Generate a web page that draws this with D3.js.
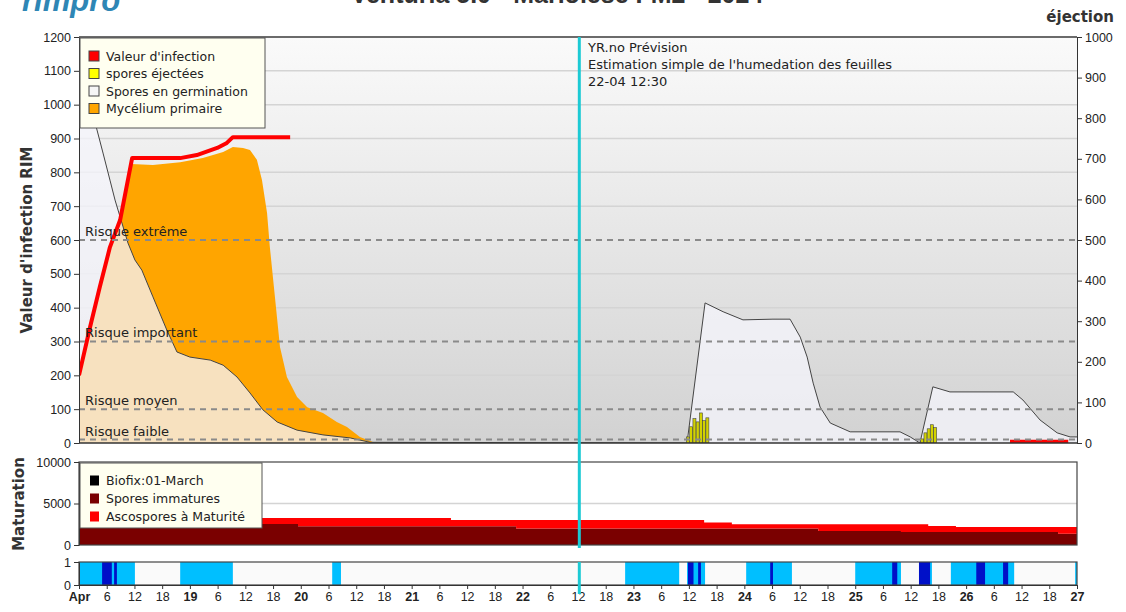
<!DOCTYPE html>
<html>
<head>
<meta charset="utf-8">
<script src="https://cdn.jsdelivr.net/npm/d3@7"></script>
<style>
  body { margin: 0; background: #fff; }
  text { font-family: "Liberation Sans", Arial, sans-serif; }
</style>
</head>
<body>
<svg id="chart" width="1126" height="612"></svg>
<script>
// time is in hours from 18 April 2024 00:00
const startDay = new Date(2024, 3, 18, 0, 0);
const totalHours = 216;
const forecastHour = 108.5; // 22-04 12:30

// [hour, value] on left scale (RIM)
const infectionValue = [[0,200],[2.4,343],[4.5,461],[6.7,579],[8.9,659],[11.5,842],[21.9,842],[25.5,851],[29.9,872],[32,887],[33.3,904],[45.7,904]];
const infectionLate = [[201.5,4],[214.1,4]];
const myceliumPrimary = [[0,196],[2.4,338],[4.5,455],[6.7,572],[8.9,652],[11.3,825],[16,822],[21.9,830],[26.8,842],[31.2,860],[33.3,875],[35.5,872],[37,866],[38.5,837],[39.6,777],[40.7,680],[41.3,580],[42.4,432],[43.5,284],[45,195],[47.2,136],[49.4,106],[52.8,89],[55.8,62],[58,47],[60.8,18],[63.6,3],[69.5,0]];
const germinatingSpores = [[0,1130],[3.9,925],[5.2,857],[6.7,777],[7.8,718],[8.9,668],[10.6,591],[12.1,541],[13.6,511],[16,432],[19,334],[21.2,269],[24,254],[28.4,245],[31.2,230],[34.2,195],[37,148],[39.8,98],[42.9,62],[47.2,38],[52.8,24],[58.7,15],[63,2],[131.6,0],[135.5,414],[139.4,388],[143.7,364],[150.2,366],[153.9,366],[156.1,313],[157.6,254],[158.9,177],[160.4,106],[162.6,59],[166.9,33],[177.7,33],[179.9,18],[182,0],[184.8,166],[188.5,151],[202.2,151],[204.3,127],[208,68],[211.7,30],[214.5,18],[216,18]];
// [hour, value] on right scale (éjection)
const ejectedSpores = [[131.8,15],[132.5,40],[133.2,60],[133.9,52],[134.6,74],[135.3,55],[136,62],[182.5,10],[183.2,25],[183.9,35],[184.6,45],[185.3,38]];

// maturation (step values)
const maturationHours = [0,47.4,80.5,94.6,132.3,135.3,141.3,160,177.9,183.8,189.8,211.9,216];
const immatureSpores  = [2530,2250,2250,2000,2000,2000,2000,1690,1570,1570,1570,1350,1350];
const matureSpores    = [720,1000,760,1010,1010,700,500,810,930,720,600,820,820];

// leaf wetness periods [start, end] hours
const wetLight = [[0,12.1],[21.9,33.3],[54.8,56.7],[118.2,129.9],[131.6,135.5],[144.4,154.3],[168,177.9],[181.8,184.6],[188.7,202.4],[215.6,216]];
const wetDark = [[5,7.1],[7.6,8.2],[131.8,133],[134,134.6],[149.6,150.2],[176,177.1],[181.8,184.2],[194.2,196.1],[200,201.1]];

const riskLevels = [600, 300, 100, 10];
const riskLabels = ['Risque extrême', 'Risque important', 'Risque moyen', 'Risque faible'];
const legendMain = [["Valeur d'infection", '#ff0000'], ['spores éjectées', '#ffff00'], ['Spores en germination', '#f6f6f6'], ['Mycélium primaire', '#ffa500']];
const legendMaturation = [['Biofix:01-March', '#000000'], ['Spores immatures', '#7a0000'], ['Ascospores à Maturité', '#ff0000']];
const forecastNote = ['YR.no Prévision', "Estimation simple de l'humedation des feuilles", '22-04 12:30'];

const hourToDate = h => new Date(startDay.getTime() + h * 3600e3);
const wide = '"DejaVu Sans", Verdana, sans-serif';

const svg = d3.select('#chart');
const left = 79, right = 1077;

const x = d3.scaleTime()
  .domain([startDay, hourToDate(totalHours)])
  .range([left, right]);
const yL = d3.scaleLinear().domain([0, 1200]).range([443, 37]);
const yR = d3.scaleLinear().domain([0, 1000]).range([443, 37]);
const yM = d3.scaleLinear().domain([0, 10000]).range([545, 462]);
const yW = d3.scaleLinear().domain([0, 1]).range([585, 562]);

// header texts (cut off at the top, as in the original export)
svg.append('text').attr('x', 22).attr('y', 11)
  .style('font-size', '31px').style('font-weight', 'bold').style('font-style', 'italic')
  .style('fill', '#2e86b5').text('rimpro');
svg.append('text').attr('x', 557).attr('y', 3).attr('text-anchor', 'middle')
  .style('font-size', '25px').style('font-weight', 'bold').style('fill', '#333')
  .text('Venturia 5.0 - Marloiese FM2 - 2024');
svg.append('text').attr('x', 1114).attr('y', 22).attr('text-anchor', 'end')
  .style('font-family', wide)
  .style('font-size', '15px').style('font-weight', 'bold').style('fill', '#333')
  .text('éjection');

const defs = svg.append('defs');
const grad = defs.append('linearGradient').attr('id', 'bg').attr('x1', 0).attr('y1', 0).attr('x2', 0).attr('y2', 1);
grad.append('stop').attr('offset', '0%').attr('stop-color', '#fafafa');
grad.append('stop').attr('offset', '100%').attr('stop-color', '#d2d2d2');
defs.append('clipPath').attr('id', 'clipMain').append('rect')
  .attr('x', left).attr('y', 37).attr('width', right - left).attr('height', 406);

// ---------- main panel ----------
const main = svg.append('g');
main.append('rect').attr('x', left).attr('y', 37).attr('width', right - left).attr('height', 406)
  .attr('fill', 'url(#bg)');

// solid gridlines
main.selectAll('.grid')
  .data(d3.range(100, 1201, 100).filter(v => !riskLevels.includes(v)))
  .enter().append('line')
  .attr('x1', left).attr('x2', right)
  .attr('y1', d => yL(d)).attr('y2', d => yL(d))
  .attr('stroke', '#d4d4d4').attr('stroke-width', 1.5);

const plot = main.append('g').attr('clip-path', 'url(#clipMain)');

const areaL = d3.area()
  .x(d => x(hourToDate(d[0])))
  .y0(yL(0))
  .y1(d => yL(d[1]));

plot.append('path').datum(myceliumPrimary)
  .attr('d', areaL).attr('fill', '#ffa500');

plot.append('path').datum(germinatingSpores)
  .attr('d', areaL).attr('fill', '#f4f4fb').attr('fill-opacity', 0.76);

plot.append('path').datum(germinatingSpores)
  .attr('d', d3.line().x(d => x(hourToDate(d[0]))).y(d => yL(d[1])))
  .attr('fill', 'none').attr('stroke', '#444').attr('stroke-width', 1);

// risk lines
main.selectAll('.risk')
  .data(riskLevels)
  .enter().append('line')
  .attr('x1', left).attr('x2', right)
  .attr('y1', d => yL(d)).attr('y2', d => yL(d))
  .attr('stroke', '#8a8a8a').attr('stroke-width', 2).attr('stroke-dasharray', '6,5');

main.selectAll('.risk-label')
  .data(riskLabels)
  .enter().append('text')
  .attr('x', 85)
  .attr('y', (d, i) => yL(riskLevels[i]) - [4, 5, 4, 4][i])
  .style('font-family', wide)
  .style('font-size', '13px').style('fill', '#222')
  .text(d => d);

// ejected spores bars (right scale)
plot.selectAll('.eject')
  .data(ejectedSpores)
  .enter().append('rect')
  .attr('x', d => x(hourToDate(d[0])) - 1.5)
  .attr('width', 3)
  .attr('y', d => yR(d[1]))
  .attr('height', d => yR(0) - yR(d[1]))
  .attr('fill', '#d2d200').attr('stroke', '#444').attr('stroke-width', 0.6);

// infection value
const lineL = d3.line().x(d => x(hourToDate(d[0]))).y(d => yL(d[1]));
[infectionValue, infectionLate].forEach(s => {
  plot.append('path').datum(s).attr('d', lineL)
    .attr('fill', 'none').attr('stroke', '#ff0000').attr('stroke-width', 4)
    .attr('stroke-linejoin', 'round');
});

// axes
const axisStyle = g => {
  g.selectAll('text').style('font-size', '12.5px').style('fill', '#222')
    .style('font-family', '"Liberation Sans", Arial, sans-serif');
  g.selectAll('line').attr('stroke', '#333');
  g.select('.domain').attr('stroke', '#333');
};
main.append('g').attr('transform', `translate(${left},0)`)
  .call(d3.axisLeft(yL).tickValues(d3.range(0, 1201, 100)).tickFormat(d3.format('d'))
    .tickSize(5).tickPadding(3).tickSizeOuter(0))
  .call(axisStyle);
main.append('g').attr('transform', `translate(${right},0)`)
  .call(d3.axisRight(yR).tickValues(d3.range(0, 1001, 100)).tickFormat(d3.format('d'))
    .tickSize(5).tickPadding(3).tickSizeOuter(0))
  .call(axisStyle);
main.append('line').attr('x1', left).attr('x2', right).attr('y1', 37).attr('y2', 37)
  .attr('stroke', '#444').attr('stroke-width', 1.5);
main.append('line').attr('x1', left).attr('x2', right).attr('y1', 443).attr('y2', 443)
  .attr('stroke', '#333').attr('stroke-width', 1.5);

svg.append('text')
  .attr('transform', 'translate(32,240) rotate(-90)')
  .attr('text-anchor', 'middle')
  .style('font-family', wide)
  .style('font-size', '15px').style('font-weight', 'bold').style('fill', '#333')
  .text("Valeur d'infection RIM");

// forecast annotation
forecastNote.forEach((t, i) => {
  svg.append('text').attr('x', 588).attr('y', 52 + i * 17)
    .style('font-family', wide)
    .style('font-size', '13px').style('fill', '#222').text(t);
});

// main legend
const lg = svg.append('g');
lg.append('rect').attr('x', 80).attr('y', 38).attr('width', 185).attr('height', 90)
  .attr('fill', '#fffff0').attr('stroke', '#555');
lg.selectAll('.item')
  .data(legendMain)
  .enter().append('g')
  .each(function (d, i) {
    const g = d3.select(this);
    const cy = 56 + i * 17.5;
    g.append('rect').attr('x', 89).attr('y', cy - 5).attr('width', 10).attr('height', 10)
      .attr('fill', d[1]).attr('stroke', '#444');
    g.append('text').attr('x', 106).attr('y', cy + 4.5)
      .style('font-family', wide)
      .style('font-size', '12.5px').style('fill', '#222').text(d[0]);
  });

// ---------- maturation panel ----------
const mat = svg.append('g');
mat.append('rect').attr('x', left).attr('y', 462).attr('width', right - left).attr('height', 83)
  .attr('fill', '#fff');
mat.append('line').attr('x1', left).attr('x2', right).attr('y1', yM(5000)).attr('y2', yM(5000))
  .attr('stroke', '#d4d4d4').attr('stroke-width', 1.5);

const matRows = maturationHours.map((h, i) => ({ h, immature: immatureSpores[i], mature: matureSpores[i] }));
const stacked = d3.stack().keys(['immature', 'mature'])(matRows);
const matColors = { immature: '#7a0000', mature: '#ff0000' };
mat.selectAll('.layer')
  .data(stacked)
  .enter().append('path')
  .attr('fill', d => matColors[d.key])
  .attr('d', d3.area()
    .curve(d3.curveStepAfter)
    .x(d => x(hourToDate(d.data.h)))
    .y0(d => yM(d[0]))
    .y1(d => yM(d[1])));

mat.append('rect').attr('x', left).attr('y', 462).attr('width', right - left).attr('height', 83)
  .attr('fill', 'none').attr('stroke', '#444').attr('stroke-width', 1.2);
mat.append('g').attr('transform', `translate(${left},0)`)
  .call(d3.axisLeft(yM).tickValues([0, 5000, 10000]).tickFormat(d3.format('d'))
    .tickSize(5).tickPadding(3).tickSizeOuter(0))
  .call(axisStyle);
svg.append('text')
  .attr('transform', 'translate(24,504) rotate(-90)')
  .attr('text-anchor', 'middle')
  .style('font-family', wide)
  .style('font-size', '15px').style('font-weight', 'bold').style('fill', '#333')
  .text('Maturation');

const ml = svg.append('g');
ml.append('rect').attr('x', 80).attr('y', 463).attr('width', 182).attr('height', 65)
  .attr('fill', '#fffff0').attr('stroke', '#555');
ml.selectAll('.item')
  .data(legendMaturation)
  .enter().append('g')
  .each(function (d, i) {
    const g = d3.select(this);
    const cy = 480.5 + i * 18;
    g.append('rect').attr('x', 90).attr('y', cy - 5).attr('width', 9).attr('height', 10)
      .attr('fill', d[1]);
    g.append('text').attr('x', 106).attr('y', cy + 4.5)
      .style('font-family', wide)
      .style('font-size', '12.5px').style('fill', '#222').text(d[0]);
  });

// ---------- leaf wetness panel ----------
const wet = svg.append('g');
wet.append('rect').attr('x', left).attr('y', 562).attr('width', right - left).attr('height', 23)
  .attr('fill', '#fafafa');
[[wetLight, '#00bfff'], [wetDark, '#0010c8']].forEach(([data, col]) => {
  wet.selectAll(null)
    .data(data)
    .enter().append('rect')
    .attr('x', d => x(hourToDate(d[0])))
    .attr('width', d => x(hourToDate(d[1])) - x(hourToDate(d[0])))
    .attr('y', yW(1))
    .attr('height', yW(0) - yW(1))
    .attr('fill', col);
});
wet.append('rect').attr('x', left).attr('y', 562).attr('width', right - left).attr('height', 23)
  .attr('fill', 'none').attr('stroke', '#444').attr('stroke-width', 1.2);
wet.append('g').attr('transform', `translate(${left},0)`)
  .call(d3.axisLeft(yW).tickValues([0, 1]).tickFormat(d3.format('d'))
    .tickSize(5).tickPadding(3).tickSizeOuter(0))
  .call(axisStyle);

const xAxis = d3.axisBottom(x)
  .ticks(d3.timeHour.every(6))
  .tickSize(4)
  .tickPadding(3)
  .tickSizeOuter(0)
  .tickFormat(d => d.getHours() === 0 ? (d.getDate() === 18 ? 'Apr' : d.getDate()) : d.getHours());
wet.append('g').attr('transform', 'translate(0,585)')
  .call(xAxis)
  .call(axisStyle)
  .call(g => g.selectAll('.tick text')
    .style('font-weight', d => d.getHours() === 0 ? 'bold' : 'normal')
    .style('font-size', '12.5px'));

// forecast marker
const fx = x(hourToDate(forecastHour)) - 1;
[[37, 548], [562, 594]].forEach(([a, b]) => {
  svg.append('line').attr('x1', fx).attr('x2', fx).attr('y1', a).attr('y2', b)
    .attr('stroke', '#1ccad4').attr('stroke-width', 3);
});
</script>
</body>
</html>
